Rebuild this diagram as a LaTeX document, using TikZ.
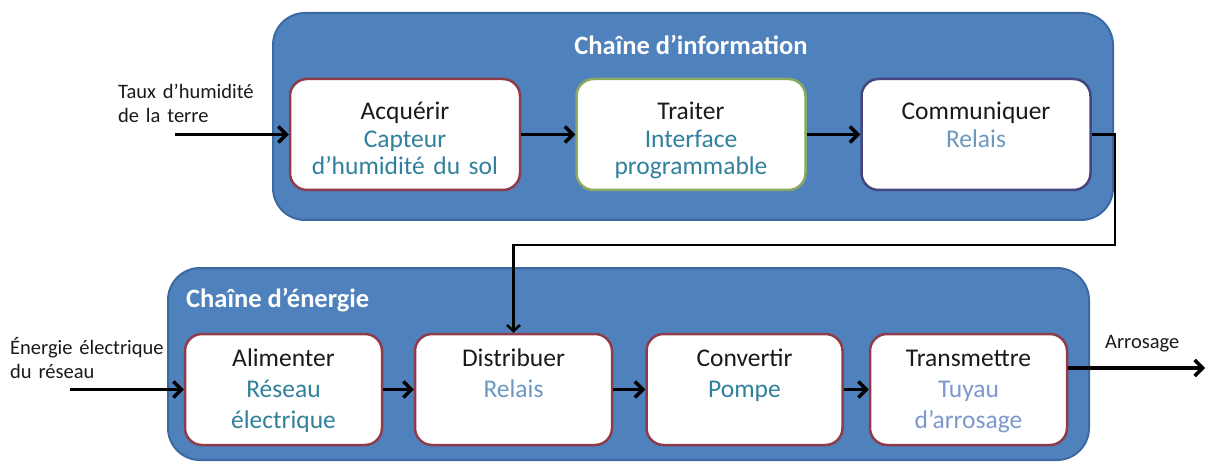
\documentclass[tikz,border=0pt]{standalone}
\usepackage{fontspec}
\setmainfont{Carlito}
\usetikzlibrary{arrows.meta,calc}
\definecolor{panelblue}{HTML}{4F81BD}
\definecolor{paneledge}{HTML}{3C69A2}
\definecolor{redb}{HTML}{8E3B4A}
\definecolor{greenb}{HTML}{8AA860}
\definecolor{blueb}{HTML}{45467F}
\definecolor{tealtx}{HTML}{31809C}
\definecolor{relaistx}{HTML}{6C98C2}
\definecolor{tuyautx}{HTML}{7C98CE}
\definecolor{maintx}{HTML}{1A1A1A}
\begin{document}
\begin{tikzpicture}[x=1pt,y=-1pt,
  panel/.style={draw=paneledge, line width=2pt, fill=panelblue, rounded corners=32pt, inner sep=0pt, anchor=north west},
  fbox/.style={draw=#1, line width=2.5pt, fill=white, rounded corners=17pt, minimum height=111pt, inner sep=0pt},
  toptxt/.style={anchor=base, inner sep=0pt, text width=225pt, align=center, text=maintx, font=\fontsize{25.5}{27.5}\selectfont},
  bottxt/.style={anchor=base, inner sep=0pt, text width=195pt, align=center, text=maintx, font=\fontsize{25.5}{31}\selectfont},
  title/.style={inner sep=0pt, text=white, font=\bfseries\fontsize{26.5}{30}\selectfont},
  lbl/.style={anchor=base west, inner sep=0pt, text width=175pt, align=left, text=maintx, font=\fontsize{20.5}{24}\selectfont},
  arr/.style={line width=3.5pt, -{Straight Barb[length=8pt,width=16pt]}},
  link/.style={line width=2.5pt, -{Straight Barb[length=6pt,width=13pt]}}
]
\useasboundingbox (0,0) rectangle (1210,465);

% panels
\node[panel, minimum width=840pt, minimum height=207pt] (info) at (272,12) {};
\node[panel, minimum width=921pt, minimum height=192pt] (ener) at (167,267) {};
\node[title] (infot) at (691,45) {Chaîne d’information};
\node[title, anchor=west] (enert) at (186,300) {Chaîne d’énergie};

% top boxes
\node[fbox=redb, minimum width=230pt] (acq) at (405,134.5) {};
\node[fbox=greenb, minimum width=229pt] (tra) at (691,134.5) {};
\node[fbox=blueb, minimum width=229pt] (com) at (976,134.5) {};
\node[toptxt] (acqt) at ($(acq.north)+(0,42)$) {Acquérir\\\textcolor{tealtx}{Capteur}\\\textcolor{tealtx}{d’humidité du sol}};
\node[toptxt] (trat) at ($(tra.north)+(0,42)$) {Traiter\\\textcolor{tealtx}{Interface}\\\textcolor{tealtx}{programmable}};
\node[toptxt] (comt) at ($(com.north)+(0,42)$) {Communiquer\\\textcolor{relaistx}{Relais}};

% bottom boxes
\node[fbox=redb, minimum width=197pt] (ali) at (283.5,389.5) {};
\node[fbox=redb, minimum width=197pt] (dis) at (513.5,389.5) {};
\node[fbox=redb, minimum width=196pt] (con) at (744.5,389.5) {};
\node[fbox=redb, minimum width=197pt] (trm) at (968.5,389.5) {};
\node[bottxt] (alit) at ($(ali.north)+(0,34)$) {Alimenter\\\textcolor{tealtx}{Réseau}\\\textcolor{tealtx}{électrique}};
\node[bottxt] (dist) at ($(dis.north)+(0,34)$) {Distribuer\\\textcolor{relaistx}{Relais}};
\node[bottxt] (cont) at ($(con.north)+(0,34)$) {Convertir\\\textcolor{tealtx}{Pompe}};
\node[bottxt] (trmt) at ($(trm.north)+(0,34)$) {Transmettre\\\textcolor{tuyautx}{Tuyau}\\\textcolor{tuyautx}{d’arrosage}};

% external labels
\node[lbl] (inlbl) at (118,99) {Taux d’humidité\\de la terre};
\node[lbl] (enlbl) at (10,354) {Énergie électrique\\du réseau};
\node[lbl] (outlbl) at (1105,348) {Arrosage};

% connectors
\coordinate (inA) at (175,134.5);
\coordinate (inE) at (70,389.5);
\coordinate (outE) at (1205,368);
\coordinate (bend) at (1115,245);
\draw[arr] (inA) -- (acq);
\draw[arr] (acq) -- (tra);
\draw[arr] (tra) -- (com);
\draw[arr] (inE) -- (ali);
\draw[arr] (ali) -- (dis);
\draw[arr] (dis) -- (con);
\draw[arr] (con) -- (trm);
\draw[arr] (trm.east |- outE) -- (outE);
\draw[link] (com.east) -| (bend) -| (dis.north);
\end{tikzpicture}
\end{document}
